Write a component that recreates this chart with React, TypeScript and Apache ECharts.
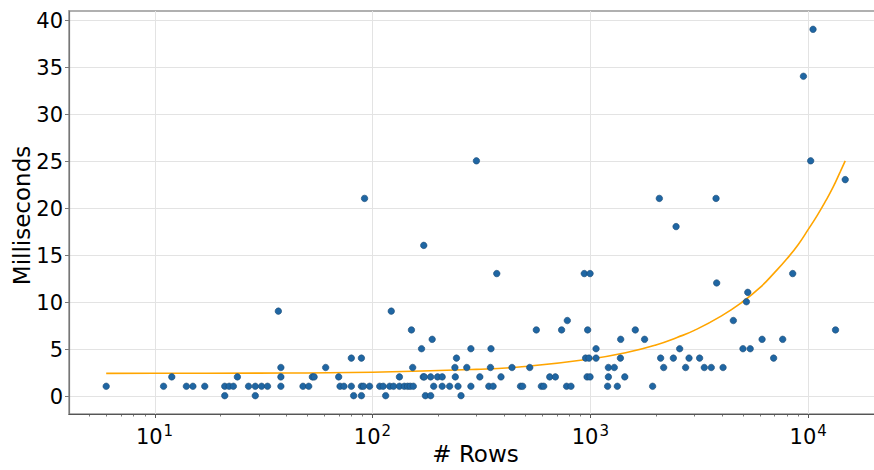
import React, { useEffect, useRef } from 'react';
import * as echarts from 'echarts';

// Scatter data: number of rows vs. milliseconds
const rows = [
  6, 11, 12, 14, 15, 17, 21, 21, 22, 23, 24, 27, 29, 29, 31, 33, 37, 38, 38, 38,
  48, 51, 53, 54, 61, 70, 71, 74, 80, 80, 82, 89, 89, 89, 91, 92, 97, 108, 112, 115,
  120, 122, 125, 133, 133, 140, 145, 149, 151, 153, 154, 168, 171, 172, 173, 175, 185, 185, 188, 191,
  199, 209, 209, 226, 239, 240, 243, 247, 255, 271, 283, 283, 300, 311, 342, 348, 350, 358, 372, 389,
  437, 478, 489, 527, 565, 596, 611, 651, 691, 738, 778, 784, 815, 938, 951, 966, 972, 986, 997, 997,
  1062, 1062, 1200, 1210, 1210, 1288, 1330, 1374, 1378, 1439, 1608, 1774, 1931, 2073, 2102, 2170, 2404, 2474, 2570, 2737,
  2837, 3173, 3334, 3589, 3774, 3800, 4065, 4531, 5016, 5202, 5277, 5416, 6140, 6937, 7634, 8485, 9504, 10260, 10520, 13340,
  14780,
];
const ms = [
  1, 1, 2, 1, 1, 1, 0, 1, 1, 1, 2, 1, 1, 0, 1, 1, 9, 3, 2, 1,
  1, 1, 2, 2, 3, 2, 1, 1, 4, 1, 0, 4, 1, 0, 1, 21, 1, 1, 1, 0,
  1, 9, 1, 2, 1, 1, 1, 1, 7, 3, 1, 5, 2, 16, 2, 0, 0, 2, 6, 1,
  2, 2, 1, 1, 3, 2, 4, 1, 0, 3, 5, 1, 25, 2, 1, 3, 5, 1, 13, 2,
  3, 1, 1, 3, 7, 1, 1, 2, 2, 7, 1, 8, 1, 13, 4, 2, 7, 4, 13, 2,
  5, 4, 1, 3, 2, 3, 1, 4, 6, 2, 7, 6, 1, 21, 4, 3, 4, 18, 5, 3,
  4, 4, 3, 3, 21, 12, 3, 8, 5, 10, 11, 5, 6, 4, 6, 13, 34, 25, 39, 7,
  23,
];

// Fitted trend line
const fitRows = [6, 10, 30, 100, 300, 500, 1000, 1500, 2000, 2500, 3000, 4000, 5000, 6000, 7000, 8000, 9000, 10000, 11000, 12000, 13000, 14000, 14780];
const fitMs = [2.37, 2.38, 2.4, 2.5, 2.8, 3.1, 3.9, 4.65, 5.4, 6.2, 6.95, 8.5, 10.0, 11.5, 13.1, 14.6, 16.1, 17.7, 19.2, 20.7, 22.2, 23.8, 25.0];

// Axis ticks and titles
const xDecades = [10, 100, 1000, 10000];
const xDecadeExponents = ['1', '2', '3', '4'];
const xMinorTicks = [
  5, 6, 7, 8, 9, 20, 30, 40, 50, 60, 70, 80, 90,
  200, 300, 400, 500, 600, 700, 800, 900,
  2000, 3000, 4000, 5000, 6000, 7000, 8000, 9000, 20000,
];
const yTicks = [0, 5, 10, 15, 20, 25, 30, 35, 40];
const xTitle = '# Rows';
const yTitle = 'Milliseconds';

const X_MIN = 4.05;
const X_MAX = 21800;
const Y_MIN = -1.95;
const Y_MAX = 40.95;
const FONT = 'DejaVu Sans';

export default function App() {
  const ref = useRef<HTMLDivElement>(null);
  useEffect(() => {
    document.body.style.margin = '0';
    const chart = echarts.init(ref.current!, null, { renderer: 'svg' });
    const points = rows.map((r, i) => [r, ms[i]]);
    const fit = fitRows.map((r, i) => [r, fitMs[i]]);
    chart.setOption({
      animation: false,
      backgroundColor: '#ffffff',
      grid: {
        left: 69, right: -8, top: 11, bottom: 56,
        outerBoundsMode: 'none',
        containLabel: false,
        show: true, borderColor: '#b0b0b0', borderWidth: 2, backgroundColor: 'transparent',
      },
      xAxis: {
        type: 'log', logBase: 10, min: X_MIN, max: X_MAX,
        axisLine: { show: true, onZero: false, lineStyle: { color: '#555', width: 1.2 } },
        axisTick: { show: false },
        splitLine: { show: false },
        axisLabel: {
          margin: 7,
          showMinLabel: false,
          showMaxLabel: false,
          fontFamily: FONT,
          color: '#000',
          formatter: (v: number) => {
            const idx = xDecades.findIndex((d) => Math.abs(d - v) / d < 1e-6);
            return idx >= 0 ? `{b|10}{s|${xDecadeExponents[idx]}}` : '';
          },
          rich: {
            b: { fontFamily: FONT, fontSize: 21, color: '#000', verticalAlign: 'bottom', lineHeight: 26 },
            s: { fontFamily: FONT, fontSize: 15, color: '#000', verticalAlign: 'bottom', lineHeight: 26, padding: [0, 0, 9, 1] },
          },
        },
      },
      yAxis: {
        type: 'value', min: Y_MIN, max: Y_MAX, splitNumber: 8,
        axisLine: { show: true, onZero: false, lineStyle: { color: '#777', width: 1.2 } },
        axisTick: { show: false },
        splitLine: { show: false },
        axisLabel: { show: false },
      },
      graphic: [],
      series: [
        {
          type: 'scatter',
          data: points,
          symbolSize: 6.5,
          itemStyle: { color: '#1f66a3', borderColor: '#1b4a74', borderWidth: 0.6, opacity: 1 },
          z: 3,
        },
        {
          type: 'line',
          data: fit,
          showSymbol: false,
          smooth: true,
          lineStyle: { color: '#ffa500', width: 1.6 },
          z: 2,
        },
      ],
    });

    // Gridlines, ticks and labels computed through the axes' own scales
    const g: any[] = [];
    const yTopPx = chart.convertToPixel({ yAxisIndex: 0 }, Y_MAX) as number;
    const yBotPx = chart.convertToPixel({ yAxisIndex: 0 }, Y_MIN) as number;
    const xLeftPx = chart.convertToPixel({ xAxisIndex: 0 }, X_MIN) as number;
    const xRightPx = chart.convertToPixel({ xAxisIndex: 0 }, X_MAX) as number;
    yTicks.forEach((t) => {
      const y = Math.round(chart.convertToPixel({ yAxisIndex: 0 }, t) as number) + 0.5;
      g.push({ type: 'line', z: 0, silent: true, shape: { x1: xLeftPx, y1: y, x2: xRightPx, y2: y }, style: { stroke: '#e3e3e3', lineWidth: 1 } });
      g.push({ type: 'line', z: 10, silent: true, shape: { x1: xLeftPx - 4, y1: y, x2: xLeftPx, y2: y }, style: { stroke: '#777', lineWidth: 1 } });
      g.push({ type: 'text', z: 10, silent: true, x: xLeftPx - 6, y: y, style: { text: String(t), fontFamily: FONT, fontSize: 21, fill: '#000', align: 'right', verticalAlign: 'middle' } });
    });
    xDecades.forEach((d) => {
      const x = Math.round(chart.convertToPixel({ xAxisIndex: 0 }, d) as number) + 0.5;
      g.push({ type: 'line', z: 0, silent: true, shape: { x1: x, y1: yTopPx, x2: x, y2: yBotPx }, style: { stroke: '#e3e3e3', lineWidth: 1 } });
      g.push({ type: 'line', z: 10, silent: true, shape: { x1: x, y1: yBotPx, x2: x, y2: yBotPx + 4 }, style: { stroke: '#555', lineWidth: 1 } });
    });
    xMinorTicks.forEach((m) => {
      const x = Math.round(chart.convertToPixel({ xAxisIndex: 0 }, m) as number) + 0.5;
      g.push({ type: 'line', z: 10, silent: true, shape: { x1: x, y1: yBotPx, x2: x, y2: yBotPx + 2.5 }, style: { stroke: '#555', lineWidth: 0.8 } });
    });
    // Axis titles
    g.push({
      type: 'text', z: 10, silent: true,
      x: (xLeftPx + xRightPx) / 2, y: yBotPx + 40,
      style: { text: xTitle, fontFamily: FONT, fontSize: 23, fill: '#000', align: 'center', verticalAlign: 'middle' },
    });
    g.push({
      type: 'text', z: 10, silent: true,
      x: 22, y: (yTopPx + yBotPx) / 2 + 3, rotation: Math.PI / 2,
      style: { text: yTitle, fontFamily: FONT, fontSize: 23, fill: '#000', align: 'center', verticalAlign: 'middle' },
    });
    chart.setOption({ graphic: g });

    return () => chart.dispose();
  }, []);
  return <div ref={ref} style={{ width: 874, height: 470 }} />;
}
